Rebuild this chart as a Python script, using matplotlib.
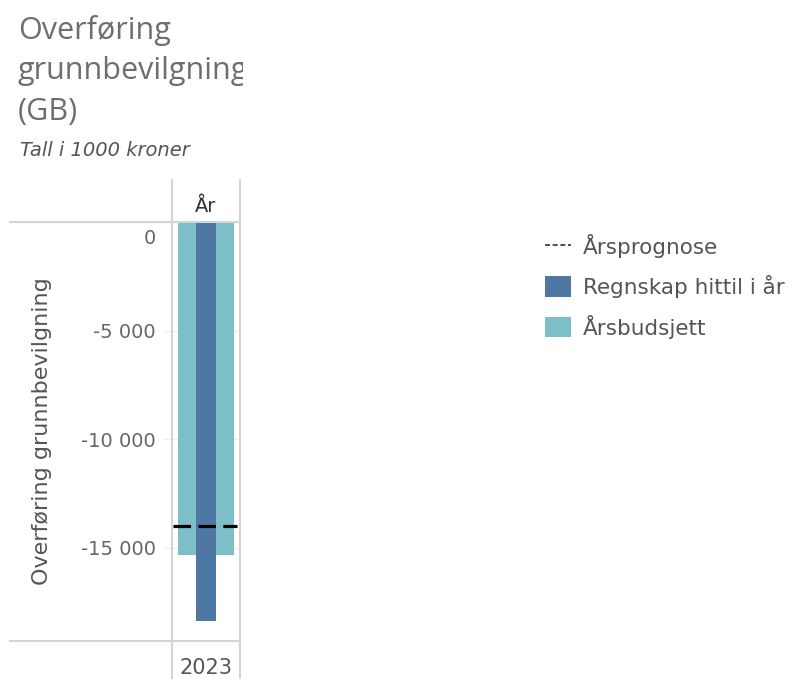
import matplotlib.pyplot as plt
from matplotlib.lines import Line2D
from matplotlib.patches import Patch
from matplotlib.transforms import Bbox, TransformedBbox, ScaledTranslation

plt.rcParams['font.family'] = ['DejaVu Sans']

# data (tall i 1000 kroner)
years = ['2023']
budsjett = [-15350]      # Årsbudsjett
regnskap = [-18400]      # Regnskap hittil i år
prognose = [-14000]      # Årsprognose
yticks = [0, -5000, -10000, -15000]
ytick_labels = ['0', '-5 000', '-10 000', '-15 000']

W, H = 799, 679
fig = plt.figure(figsize=(W / 100, H / 100), dpi=100)

def fx(px):
    return px / W

def fy(py):
    return 1 - py / H

ax = fig.add_axes([fx(172), fy(641), fx(240) - fx(172), fy(222) - fy(641)])

x = list(range(len(years)))
ax.bar(x, budsjett, 0.82, color='#7dbfc8', label='Årsbudsjett', zorder=2)
ax.bar(x, regnskap, 0.30, color='#4e77a3', label='Regnskap hittil i år', zorder=3)
for xi, p in zip(x, prognose):
    ax.hlines(p, xi - 0.485, xi + 0.46, colors='black', linewidth=2.3,
              linestyles=(0, (5.5, 2.3)), zorder=4)

ax.set_xlim(-0.5, 0.5)
ax.set_ylim(-19300, 0)
ax.set_yticks(yticks, ytick_labels)
ax.set_xticks(x, years)
for s in ax.spines.values():
    s.set_visible(False)
ax.yaxis.grid(True, color='#eeeeee', linewidth=1, zorder=0)
ax.tick_params(axis='y', length=6.5, color='#eeeeee', pad=5, labelsize=14, labelcolor='#666666')
ax.tick_params(axis='x', length=0, pad=12, labelsize=15, labelcolor='#555555')
# Tableau nudges the 0 label down inside the pane
lab0 = ax.get_yticklabels()[0]
lab0.set_transform(lab0.get_transform() + ScaledTranslation(0, -15 / 100, fig.dpi_scale_trans))

ax.set_ylabel('Overføring grunnbevilgning', fontsize=16, color='#555555')
ax.yaxis.label.set_va('center')
ax.yaxis.set_label_coords((42 - 172) / 68, 0.5)

# table borders
border = dict(color='#d4d4d4', linewidth=1.5, transform=fig.transFigure)
fig.add_artist(Line2D([fx(10), fx(240)], [fy(222), fy(222)], **border))
fig.add_artist(Line2D([fx(10), fx(240)], [fy(641), fy(641)], **border))
fig.add_artist(Line2D([fx(172), fx(172)], [fy(180), fy(679)], **border))
fig.add_artist(Line2D([fx(240), fx(240)], [fy(180), fy(679)], **border))

fig.text(fx(206), fy(207), 'År', ha='center', va='center', fontsize=14, color='#333333')

# title (clipped at the worksheet edge like in Tableau)
clip = TransformedBbox(Bbox([[0, 0], [fx(243), 1]]), fig.transFigure)
for txt, py in [('Overføring', 30), ('grunnbevilgning', 71), ('(GB)', 112)]:
    t = fig.text(fx(18), fy(py), txt, ha='left', va='center', fontsize=22, color='#6e6e6e',
                 family=['Open Sans', 'DejaVu Sans'])
    t.set_clip_box(clip)
    t.set_clip_on(True)
fig.text(fx(20), fy(150), 'Tall i 1000 kroner', ha='left', va='center', fontsize=14,
         style='italic', color='#555555')

handles = [
    Line2D([], [], color='#333333', linestyle=(0, (3, 1.6)), linewidth=1.2),
    Patch(facecolor='#4e77a3', edgecolor='none'),
    Patch(facecolor='#7dbfc8', edgecolor='none'),
]
labels = ['Årsprognose', 'Regnskap hittil i år', 'Årsbudsjett']
leg = fig.legend(handles, labels, loc='upper left', bbox_to_anchor=(fx(545), fy(234)),
                 frameon=False, fontsize=15.5, handlelength=1.2, handleheight=1.07,
                 handletextpad=0.55, labelspacing=0.78, borderaxespad=0, borderpad=0)
for t in leg.get_texts():
    t.set_color('#555555')

fig.savefig('out.png', dpi=100)
